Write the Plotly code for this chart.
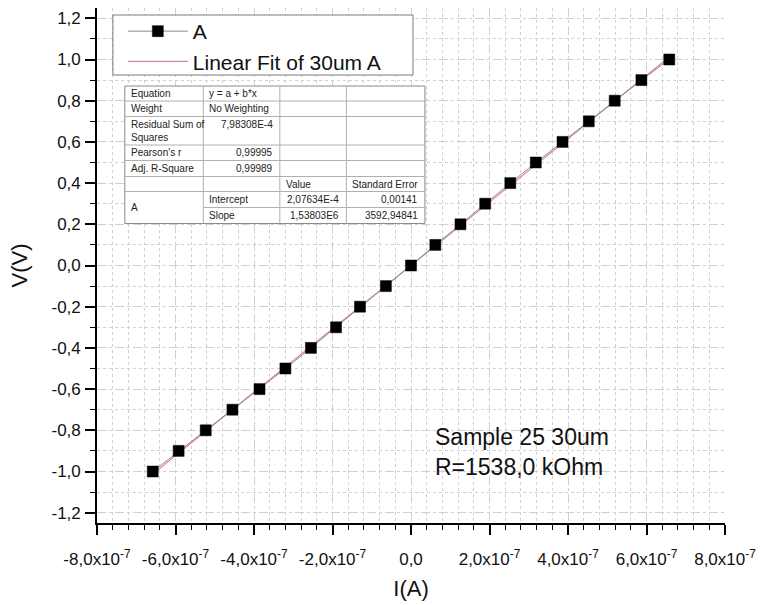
import plotly.graph_objects as go

# ---------------- data ----------------
V_volts = [-1.0, -0.9, -0.8, -0.7, -0.6, -0.5, -0.4, -0.3, -0.2, -0.1, 0.0,
           0.1, 0.2, 0.3, 0.4, 0.5, 0.6, 0.7, 0.8, 0.9, 1.0]
I_amps = [-6.58e-7, -5.92e-7, -5.23e-7, -4.55e-7, -3.86e-7, -3.20e-7, -2.55e-7,
          -1.91e-7, -1.30e-7, -0.64e-7, 0.0, 0.62e-7, 1.26e-7, 1.89e-7, 2.53e-7,
          3.18e-7, 3.86e-7, 4.53e-7, 5.19e-7, 5.87e-7, 6.58e-7]

fit_intercept = 2.07634e-4
fit_slope = 1.53803e6

x_tickvals = [-8e-7, -6e-7, -4e-7, -2e-7, 0.0, 2e-7, 4e-7, 6e-7, 8e-7]
x_ticktext = ["-8,0x10<sup>-7</sup>", "-6,0x10<sup>-7</sup>", "-4,0x10<sup>-7</sup>",
              "-2,0x10<sup>-7</sup>", "0,0", "2,0x10<sup>-7</sup>", "4,0x10<sup>-7</sup>",
              "6,0x10<sup>-7</sup>", "8,0x10<sup>-7</sup>"]
y_tickvals = [-1.2, -1.0, -0.8, -0.6, -0.4, -0.2, 0.0, 0.2, 0.4, 0.6, 0.8, 1.0, 1.2]
y_ticktext = ["-1,2", "-1,0", "-0,8", "-0,6", "-0,4", "-0,2", "0,0",
              "0,2", "0,4", "0,6", "0,8", "1,0", "1,2"]

table_cells = [
    # text, col, row_start, row_end, align
    ("Equation", 0, 0, 1, "left"), ("y = a + b*x", 1, 0, 1, "left"),
    ("Weight", 0, 1, 2, "left"), ("No Weighting", 1, 1, 2, "left"),
    ("Residual Sum of<br>Squares", 0, 2, 3, "left"), ("7,98308E-4", 1, 2, 3, "right_top"),
    ("Pearson's r", 0, 3, 4, "left"), ("0,99995", 1, 3, 4, "right"),
    ("Adj. R-Square", 0, 4, 5, "left"), ("0,99989", 1, 4, 5, "right"),
    ("Value", 2, 5, 6, "left"), ("Standard Error", 3, 5, 6, "left"),
    ("A", 0, 6, 8, "left"),
    ("Intercept", 1, 6, 7, "left"), ("2,07634E-4", 2, 6, 7, "right"), ("0,00141", 3, 6, 7, "right"),
    ("Slope", 1, 7, 8, "left"), ("1,53803E6", 2, 7, 8, "right"), ("3592,94841", 3, 7, 8, "right"),
]

FONT = "Liberation Sans, Arial, sans-serif"
W, H = 764, 605
PL, PR, PT, PB = 97, 729, 8, 523


def px(x):
    return (x - PL) / (PR - PL)


def py(y):
    return (PB - y) / (PB - PT)


fig = go.Figure()

fit_x = [min(I_amps), max(I_amps)]
fit_y = [fit_intercept + fit_slope * v for v in fit_x]

fig.add_trace(go.Scatter(
    x=fit_x, y=fit_y, mode="lines", name="Linear Fit of 30um A",
    line=dict(color="#d98a90", width=1.2), legendrank=2))
fig.add_trace(go.Scatter(
    x=I_amps, y=V_volts, mode="lines+markers", name="A",
    line=dict(color="#8c8c8c", width=1),
    marker=dict(symbol="square", size=11, color="black",
                line=dict(color="black", width=0.5)),
    legendrank=1))

grid_col = "#d0d0d0"
fig.update_xaxes(
    range=[-8e-7, 8e-7], tickmode="array", tickvals=x_tickvals, ticktext=x_ticktext,
    showline=True, linecolor="black", linewidth=1.6, mirror=False,
    ticks="outside", ticklen=10, tickwidth=1.5, tickcolor="black",
    ticklabelstandoff=10,
    showgrid=True, gridcolor=grid_col, gridwidth=1, griddash="dashdot",
    zeroline=False,
    minor=dict(tickmode="linear", tick0=0, dtick=4e-8, ticks="outside", ticklen=5,
               tickwidth=1.3, tickcolor="black", showgrid=True, gridcolor=grid_col,
               gridwidth=1, griddash="dot"),
    tickfont=dict(family=FONT, size=17, color="#111"),
    title=dict(text="I(A)", font=dict(family=FONT, size=22, color="#111"), standoff=12),
)
fig.update_yaxes(
    range=[-1.25, 1.25], tickmode="array", tickvals=y_tickvals, ticktext=y_ticktext,
    showline=True, linecolor="black", linewidth=1.6, mirror=False,
    ticks="outside", ticklen=10, tickwidth=1.5, tickcolor="black",
    ticklabelstandoff=1,
    showgrid=True, gridcolor=grid_col, gridwidth=1, griddash="dashdot",
    zeroline=False,
    minor=dict(tickmode="linear", tick0=0, dtick=0.1, ticks="outside", ticklen=5,
               tickwidth=1.3, tickcolor="black", showgrid=True, gridcolor=grid_col,
               gridwidth=1, griddash="dot"),
    tickfont=dict(family=FONT, size=17, color="#111"),
    title=dict(text="V(V)", font=dict(family=FONT, size=22, color="#111"), standoff=18),
)

# ---------------- legend box ----------------
shapes = [dict(type="rect", xref="paper", yref="paper", layer="above",
               x0=px(113), x1=px(415), y0=py(75), y1=py(15),
               fillcolor="white", line=dict(color="#7a7a7a", width=1))]

# ---------------- fit table ----------------
cols = [125, 204, 281, 348, 427]
rows = [86, 101, 116.5, 145, 160.5, 176.5, 191.5, 207.5, 223.5]
shapes.append(dict(type="rect", xref="paper", yref="paper", layer="above",
                   x0=px(cols[0]), x1=px(cols[-1]), y0=py(rows[-1]), y1=py(rows[0]),
                   fillcolor="white", line=dict(color="#8a8a8a", width=1)))
for i, r in enumerate(rows[1:-1], start=1):
    x0 = cols[1] if i == 7 else cols[0]
    shapes.append(dict(type="line", xref="paper", yref="paper", layer="above",
                       x0=px(x0), x1=px(cols[-1]), y0=py(r), y1=py(r),
                       line=dict(color="#b0b0b0", width=1)))
for c in cols[1:-1]:
    shapes.append(dict(type="line", xref="paper", yref="paper", layer="above",
                       x0=px(c), x1=px(c), y0=py(rows[0]), y1=py(rows[-1]),
                       line=dict(color="#b0b0b0", width=1)))

annotations = []
for text, c, r0, r1, align in table_cells:
    if align.startswith("right"):
        xx, xa = cols[c + 1] - 5, "right"
    else:
        xx, xa = cols[c] + 4, "left"
    if align == "right_top":
        yy = rows[r0] + 8
    else:
        yy = (rows[r0] + rows[r1]) / 2
    annotations.append(dict(
        text=text, x=px(xx), y=py(yy), xref="paper", yref="paper",
        xanchor=xa, yanchor="middle", align="left", showarrow=False,
        font=dict(family=FONT, size=10, color="#222")))

annotations.append(dict(
    text="Sample 25 30um<br>R=1538,0 kOhm", x=px(435), y=py(452),
    xref="paper", yref="paper", xanchor="left", yanchor="middle", align="left",
    showarrow=False, font=dict(family=FONT, size=23, color="#111")))

fig.update_layout(
    width=W, height=H,
    margin=dict(l=PL, r=W - PR, t=PT, b=H - PB),
    paper_bgcolor="white", plot_bgcolor="white",
    separators=",.",
    showlegend=True,
    legend=dict(x=px(123), y=py(11), xanchor="left", yanchor="top",
                bgcolor="rgba(0,0,0,0)", borderwidth=0,
                font=dict(family=FONT, size=21, color="#111"),
                itemwidth=60, tracegroupgap=0),
    shapes=shapes, annotations=annotations,
)

fig.write_html("out.html", config={"displayModeBar": False},
               post_script="document.body.style.margin='0';document.body.style.overflow='hidden';")
